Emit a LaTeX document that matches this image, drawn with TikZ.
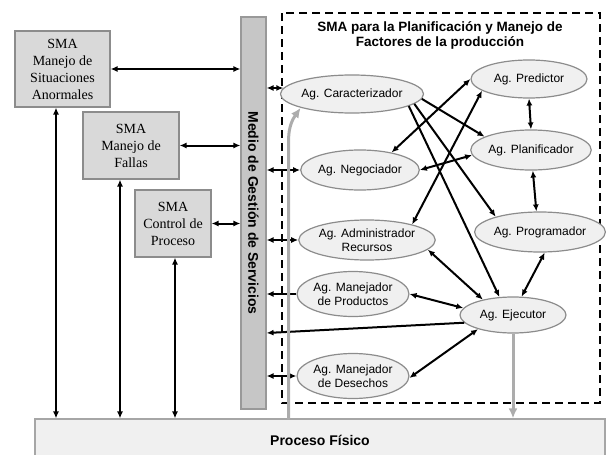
\documentclass[tikz,border=0pt]{standalone}
\usepackage{fontspec}
\setmainfont{Liberation Serif}
\setsansfont{Liberation Sans}
\usepackage{tikz}
\usetikzlibrary{arrows,arrows.meta,shapes.geometric,positioning,calc}
\tikzset{
	smabox/.style={
		rectangle,
		draw=gray!90, fill=gray!30, line width=1.2pt,
		inner sep=0pt,
		align=center,
		font=\fontsize{14}{17}\selectfont,
	},
	agent/.style={
		ellipse,
		draw=gray!90, fill=gray!12, line width=1.2pt,
		inner sep=0pt,
		align=center,
		font=\sffamily\fontsize{12}{14}\selectfont,
	},
	link/.style={line width=2pt},
	feed/.style={line width=3pt, draw=gray!65, -{Latex[length=10pt,width=9pt]}},
}

\begin{document}
\begin{tikzpicture}[x=1pt,y=-1pt,>={Latex[length=7pt,width=6pt]}]

	\useasboundingbox (0,0) rectangle (606,455);

	% physical process at the bottom (runs off the page)
	\node[rectangle, draw=gray!70, fill=gray!12, line width=1.2pt,
	minimum width=570pt, minimum height=43pt,
	font=\sffamily\bfseries\fontsize{14}{16}\selectfont] (FISICO) at (320,440.5) {Proceso Físico};

	% service bus, text turned by the label
	\node[rectangle, draw=gray!80, fill=gray!45, line width=1.2pt,
	minimum width=25pt, minimum height=392pt,
	label={[rotate=-90, font=\sffamily\bfseries\fontsize{14}{16}\selectfont]center:Medio de Gestión de Servicios}] (BAR) at (253.5,213) {};

	% the three SMA boxes on the left
	\node[smabox, minimum width=95pt, minimum height=76pt] (SITUAC) at (62.5,69)
	{SMA\\Manejo de\\Situaciones\\Anormales};
	\node[smabox, minimum width=96pt, minimum height=67pt] (FALLAS) at (131,145.5)
	{SMA\\Manejo de\\Fallas};
	\node[smabox, minimum width=76pt, minimum height=67pt] (CONTROL) at (173,223.5)
	{SMA\\Control de\\Proceso};

	% dashed frame of the planning SMA
	\draw[line width=2.2pt, dash pattern=on 8pt off 5pt] (282,13) rectangle (600,403);
	\node[font=\sffamily\bfseries\fontsize{13.5}{15}\selectfont, align=center] (TITLE) at (440,35)
	{SMA para la Planificación y Manejo de\\Factores de la producción};

	% agents
	\node[agent, minimum width=115pt, minimum height=38pt] (CARACT) at (352,94) {Ag. Caracterizador};
	\node[agent, minimum width=110pt, minimum height=40pt] (NEGOC) at (360,170) {Ag. Negociador};
	\node[agent, minimum width=125pt, minimum height=40pt] (ADMIN) at (367,240) {Ag. Administrador\\Recursos};
	\node[agent, minimum width=105pt, minimum height=45pt] (PRODUC) at (353,294) {Ag. Manejador\\de Productos};
	\node[agent, minimum width=106pt, minimum height=45pt] (DESECH) at (353,376) {Ag. Manejador\\de Desechos};
	\node[agent, minimum width=106pt, minimum height=36pt] (EJEC) at (513,315) {Ag. Ejecutor};
	\node[agent, minimum width=116pt, minimum height=38pt] (PRED) at (529,79) {Ag. Predictor};
	\node[agent, minimum width=102pt, minimum height=40pt] (PLAN) at (531,150) {Ag. Planificador};
	\node[agent, minimum width=101pt, minimum height=40pt] (PROG) at (540,232) {Ag. Programador};

	% boxes <-> bus and boxes <-> process
	\draw[link,<->] (SITUAC.east) -- (SITUAC.east -| BAR.west);
	\draw[link,<->] (FALLAS.east) -- (FALLAS.east -| BAR.west);
	\draw[link,<->] (CONTROL.east) -- (CONTROL.east -| BAR.west);

	\coordinate (DOWNS) at ($(SITUAC.south)+(-6.5,0)$);
	\coordinate (DOWNF) at ($(FALLAS.south)+(-11,0)$);
	\coordinate (DOWNC) at ($(CONTROL.south)+(2,0)$);
	\draw[link,<->] (DOWNS) -- (DOWNS |- FISICO.north);
	\draw[link,<->] (DOWNF) -- (DOWNF |- FISICO.north);
	\draw[link,<->] (DOWNC) -- (DOWNC |- FISICO.north);

	% bus <-> agents
	\draw[link,<->] (CARACT.175 -| BAR.east) -- (CARACT.175);
	\draw[link,<->] (NEGOC.west -| BAR.east) -- (NEGOC.west);
	\draw[link,<->] (ADMIN.west -| BAR.east) -- (ADMIN.west);
	\draw[link,->] (PRODUC.west) -- (PRODUC.west -| BAR.east);
	\draw[link,<->] (DESECH.west -| BAR.east) -- (DESECH.west);
	\coordinate (EJBUS) at ($(BAR.east)+(0,120)$);
	\draw[link,->] (EJEC.189) -- (EJBUS);

	% links between the agents
	\path[link]
	(CARACT.-4)		edge[->]	(PLAN.164)
	(CARACT.-9)		edge[->]	(PROG.161)
	(CARACT.-12)	edge[->]	(EJEC.127)
	(NEGOC.29)		edge[<->]	(PRED.180)
	(NEGOC.east)	edge[<->]	(PLAN.185)
	(ADMIN.19)		edge[<->]	(PRED.194)
	(ADMIN.-9)		edge[<->]	(EJEC.153)
	(PRODUC.east)	edge[<->]	(EJEC.172)
	(DESECH.-2)		edge[<->]	(EJEC.202)
	(PROG.-77)		edge[<->]	(EJEC.65)
	(PRED.south)	edge[<->]	(PLAN.north)
	(PLAN.-85)		edge[<->]	(PROG.100)
	; % END PATH

	% gray feeds from and to the process
	\coordinate (FEED) at ($(BAR.south east)+(22,10)$);
	\draw[feed] (FEED) -- ++(0,-280) to[out=90,in=235] (CARACT.195);
	\draw[feed] (EJEC.south) -- (EJEC.south |- FISICO.north);

\end{tikzpicture}
\end{document}
